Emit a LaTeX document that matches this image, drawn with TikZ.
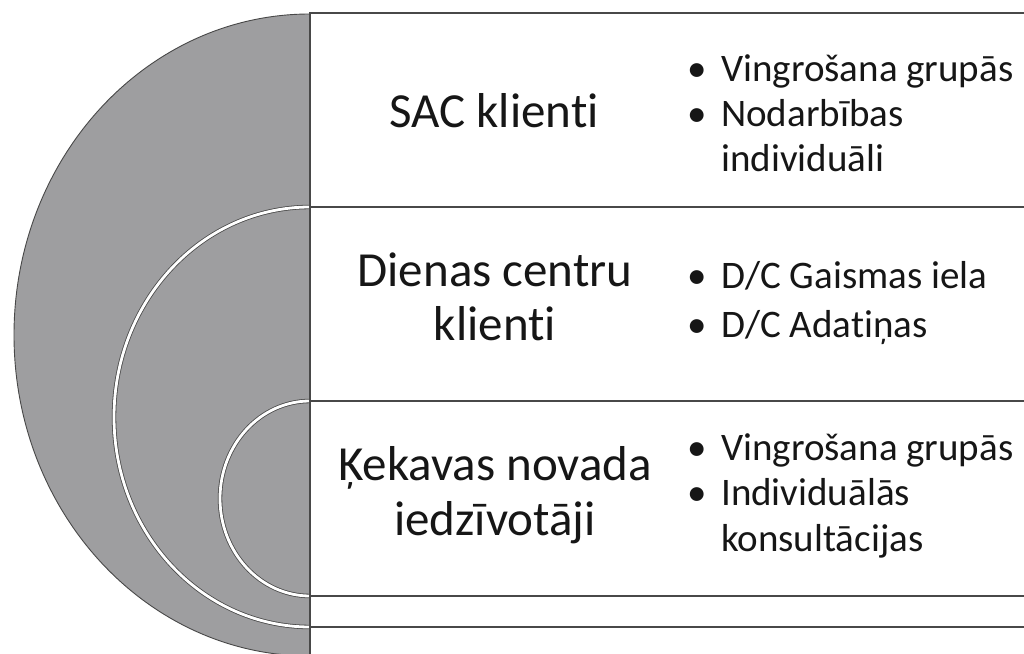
\documentclass[tikz,border=0pt]{standalone}
\usepackage{fontspec}
\setmainfont[Ligatures={NoCommon,NoContextual}]{Carlito}
\definecolor{shade}{RGB}{158,158,160}
\definecolor{edge}{RGB}{72,72,72}
\definecolor{txt}{RGB}{22,22,22}
\begin{document}
\begin{tikzpicture}[x=1pt,y=1pt,
  lbl/.style={font=\fontsize{49}{54}\selectfont, text=txt, inner sep=0pt, anchor=base},
  itm/.style={font=\fontsize{39}{45}\selectfont, text=txt, inner sep=0pt, anchor=base west},
  bul/.style={font=\fontsize{39}{45}\selectfont, text=txt, inner sep=0pt, anchor=base},
  rowbox/.style={draw=edge, line width=1.2pt, fill=white},
  ringdark/.style={draw=edge, line width=4.4pt},
  ringwhite/.style={draw=white, line width=2.8pt},
]
\useasboundingbox (0,0) rectangle (1024,653);
\clip (0,0) rectangle (1024,653);
\fill[white] (0,0) rectangle (1024,653);

% outer grey half-ellipse
\filldraw[fill=shade, draw=edge, line width=0.9pt]
  (310,639) arc[start angle=90, end angle=270, x radius=296, y radius=321] -- cycle;

% middle ring
\draw[ringdark] (310,446) arc[start angle=90, end angle=270, x radius=196, y radius=210];
\draw[ringwhite] (310,446) arc[start angle=90, end angle=270, x radius=196, y radius=210];
% inner ring
\draw[ringdark] (310,252) arc[start angle=90, end angle=270, x radius=90, y radius=97.5];
\draw[ringwhite] (310,252) arc[start angle=90, end angle=270, x radius=90, y radius=97.5];

% row boxes
\draw[rowbox] (310,446) rectangle (1040,640);
\draw[rowbox] (310,252) rectangle (1040,446);
\draw[rowbox] (310,57) rectangle (1040,252);
\draw[rowbox] (310,26) rectangle (1040,57);
\draw[rowbox] (310,-20) rectangle (1040,26);

% left labels
\node[lbl] (sac) at (494,525) {SAC klienti};
\node[lbl] (dc1) at (495,366) {Dienas centru};
\node[lbl] (dc2) at (495,312) {klienti};
\node[lbl] (kn1) at (495,172) {Ķekavas novada};
\node[lbl] (kn2) at (495,118) {iedzīvotāji};

% bullets row 1
\node[bul] (b1) at (697,571) {•};
\node[itm] (t1) at (721,571) {Vingrošana grupās};
\node[bul] (b2) at (697,526) {•};
\node[itm] (t2) at (721,526) {Nodarbības};
\node[itm] (t2b) at (721,481) {individuāli};

% bullets row 2
\node[bul] (b3) at (697,364) {•};
\node[itm] (t3) at (721,364) {D/C Gaismas iela};
\node[bul] (b4) at (697,315) {•};
\node[itm] (t4) at (721,315) {D/C Adatiņas};

% bullets row 3
\node[bul] (b5) at (697,192) {•};
\node[itm] (t5) at (721,192) {Vingrošana grupās};
\node[bul] (b6) at (697,147) {•};
\node[itm] (t6) at (721,147) {Individuālās};
\node[itm] (t6b) at (721,102) {konsultācijas};
\end{tikzpicture}
\end{document}
